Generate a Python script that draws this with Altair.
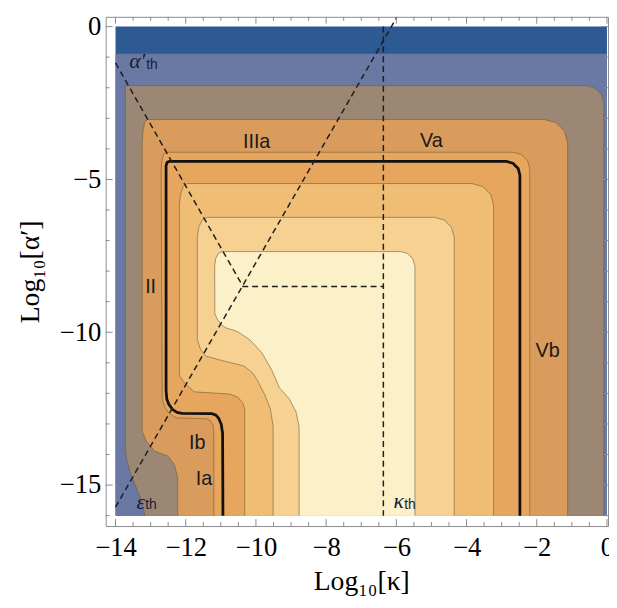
import altair as alt
import pandas as pd

# ---------------- data ----------------
# Filled contour bands, outermost (lowest level) first.
LEVEL_COLORS = ["#2d5a92", "#6a79a3", "#9c8774", "#d99c5d",
                "#e6a65d", "#f0bd75", "#f6d192", "#fcf0c8"]

# rows: (log10 alpha', left log10 kappa, right log10 kappa)
REGION_0 = [(0.0, -14.0, 0.0), (-16.0, -14.0, 0.0)]
REGION_1 = [(-0.89, -14.0, 0.0), (-16.0, -14.0, 0.0)]
REGION_2 = [(-1.93, -13.72, -0.59), (-2.01, -13.72, -0.34), (-2.22, -13.72, -0.16),
            (-2.51, -13.72, -0.09), (-13.79, -13.72, -0.09), (-14.11, -13.69, -0.09),
            (-14.6, -13.58, -0.09), (-15.08, -13.41, -0.09), (-15.57, -13.24, -0.09),
            (-16.0, -13.16, -0.09)]
REGION_3 = [(-3.04, -13.10, -1.79), (-3.14, -13.17, -1.45), (-3.43, -13.22, -1.21),
            (-3.81, -13.24, -1.12), (-13.24, -13.24, -1.12), (-13.57, -13.12, -1.12),
            (-13.89, -12.88, -1.12), (-14.05, -12.51, -1.12), (-14.34, -12.32, -1.12),
            (-14.76, -12.23, -1.12), (-16.0, -12.23, -1.12)]
REGION_4 = [(-4.11, -12.56, -2.68), (-4.18, -12.63, -2.44), (-4.39, -12.68, -2.26),
            (-4.66, -12.70, -2.20), (-12.18, -12.67, -2.20), (-12.45, -12.60, -2.20),
            (-12.61, -12.51, -2.20), (-12.74, -12.36, -2.20), (-12.80, -12.26, -2.20),
            (-12.83, -11.40, -2.20), (-12.90, -11.30, -2.20), (-13.04, -11.22, -2.20),
            (-13.30, -11.20, -2.20), (-16.0, -11.20, -2.20)]
REGION_5 = [(-5.135, -11.96, -3.85), (-5.23, -12.07, -3.54), (-5.49, -12.15, -3.31),
            (-5.85, -12.18, -3.23), (-11.43, -12.18, -3.23), (-11.64, -12.04, -3.23),
            (-11.80, -11.90, -3.23), (-11.95, -11.76, -3.23), (-12.02, -10.75, -3.23),
            (-12.12, -10.52, -3.23), (-12.30, -10.38, -3.23), (-12.50, -10.32, -3.23),
            (-16.0, -10.32, -3.23)]
REGION_6 = [(-6.24, -11.39, -4.91), (-6.33, -11.53, -4.63), (-6.57, -11.63, -4.43),
            (-6.89, -11.67, -4.35), (-10.24, -11.67, -4.35), (-10.56, -11.58, -4.35),
            (-10.78, -11.43, -4.35), (-10.94, -10.92, -4.35), (-11.10, -10.35, -4.35),
            (-11.30, -10.12, -4.35), (-11.53, -9.98, -4.35), (-12.02, -9.76, -4.35),
            (-12.50, -9.59, -4.35), (-13.08, -9.51, -4.35), (-16.0, -9.51, -4.35)]
REGION_7 = [(-7.36, -10.97, -5.89), (-7.42, -11.07, -5.68), (-7.60, -11.15, -5.53),
            (-7.84, -11.175, -5.47), (-9.40, -11.17, -5.47), (-9.60, -11.09, -5.47),
            (-9.76, -10.98, -5.47), (-9.86, -10.85, -5.47), (-9.97, -10.54, -5.47),
            (-10.24, -10.18, -5.47), (-10.66, -9.84, -5.47), (-11.21, -9.56, -5.47),
            (-11.82, -9.33, -5.47), (-12.18, -9.05, -5.47), (-12.60, -8.86, -5.47),
            (-13.08, -8.77, -5.47), (-16.0, -8.77, -5.47)]
REGIONS = [REGION_0, REGION_1, REGION_2, REGION_3, REGION_4, REGION_5, REGION_6, REGION_7]

# thick black contour
BLACK_X = [-10.94, -10.95, -10.99, -11.06, -11.14, -11.25, -12.10, -12.25, -12.38, -12.48,
           -12.54, -12.56, -12.56, -12.53, -12.46, -2.87, -2.68, -2.53, -2.48, -2.48]
BLACK_Y = [-16.0, -13.3, -13.0, -12.82, -12.71, -12.665, -12.655, -12.62, -12.52, -12.36,
           -12.18, -11.9, -4.55, -4.44, -4.41, -4.41, -4.47, -4.64, -4.86, -16.0]

# dashed threshold lines (segment id, x, y)
DASH_SEG = [0, 0, 0, 1, 1, 2, 2]
DASH_X = [-14.0, -10.37, -6.37, -14.0, -5.99, -6.37, -6.37]
DASH_Y = [-1.19, -8.5, -8.5, -15.72, 0.30, 0.0, -16.0]

# region labels
LABELS = ["IIIa", "Va", "II", "Vb", "Ib", "Ia"]
LABEL_X = [-9.98, -5.0, -13.0, -1.69, -11.67, -11.48]
LABEL_Y = [-3.79, -3.73, -8.53, -10.6, -13.63, -14.81]

# threshold symbols and their "th" subscripts
SYMBOLS = ["α′", "ε", "κ"]
SYM_X = [-13.38, -13.28, -5.93]
SYM_Y = [-1.13, -15.56, -15.53]
SUB_TEXT = ["th", "th", "th"]
SUB_X = [-12.96, -12.99, -5.61]
SUB_Y = [-1.27, -15.66, -15.66]

# ticks
X_MAJOR = [-14, -12, -10, -8, -6, -4, -2, 0]
X_MINOR = [-13.5, -13, -12.5, -11.5, -11, -10.5, -9.5, -9, -8.5, -7.5, -7, -6.5,
           -5.5, -5, -4.5, -3.5, -3, -2.5, -1.5, -1, -0.5]
Y_MAJOR = [0, -5, -10, -15]
Y_MINOR = [-1, -2, -3, -4, -6, -7, -8, -9, -11, -12, -13, -14, -16]

# ---------------- chart ----------------
W, H = 509, 516
xscale = alt.Scale(domain=[-14.28, 0.03], nice=False, zero=False)
yscale = alt.Scale(domain=[-16.34, 0.32], nice=False, zero=False)

axis_x = alt.Axis(values=X_MAJOR, ticks=False, domain=False, grid=False,
                  labelFont="Liberation Serif", labelFontSize=27, labelColor="black",
                  labelPadding=9, labelFlush=False, labelOverlap=False,
                  title="Log₁₀[κ]", titleFont="Liberation Serif", titleFontSize=28,
                  titleFontWeight="normal", titleColor="black",
                  titleX=259, titleY=64, titleBaseline="alphabetic", titleAlign="center")
axis_y = alt.Axis(values=Y_MAJOR, ticks=False, domain=False, grid=False,
                  labelFont="Liberation Serif", labelFontSize=27, labelColor="black",
                  labelPadding=5, labelFlush=False, labelOverlap=False,
                  title="Log₁₀[α′]", titleFont="Liberation Serif", titleFontSize=28,
                  titleFontWeight="normal", titleColor="black", titleAngle=270,
                  titleX=-68, titleY=258, titleBaseline="alphabetic", titleAlign="center")


def X(field):
    return alt.X(field, type="quantitative", scale=xscale, axis=axis_x, stack=False)


def Y(field):
    return alt.Y(field, type="quantitative", scale=yscale, axis=axis_y)


layers = []
for k, rows in enumerate(REGIONS):
    df = pd.DataFrame(rows, columns=["y", "xl", "xr"])
    layers.append(
        alt.Chart(df).mark_area(orient="horizontal", color=LEVEL_COLORS[k], opacity=1)
        .encode(y=Y("y"), x=X("xl"), x2="xr")
    )

# thin contour outlines for the inner bands
for k, rows in enumerate(REGIONS):
    if k < 2:
        continue
    pts = [(xl, y) for (y, xl, xr) in reversed(rows)] + [(xr, y) for (y, xl, xr) in rows]
    odf = pd.DataFrame({"x": [p[0] for p in pts], "y": [p[1] for p in pts],
                        "o": list(range(len(pts)))})
    layers.append(
        alt.Chart(odf).mark_line(color="#6e5a36", strokeWidth=0.7, opacity=0.85)
        .encode(x=X("x"), y=Y("y"), order="o:Q")
    )

black_df = pd.DataFrame({"x": BLACK_X, "y": BLACK_Y, "o": list(range(len(BLACK_X)))})
layers.append(
    alt.Chart(black_df).mark_line(color="#111111", strokeWidth=2.8, strokeJoin="round")
    .encode(x=X("x"), y=Y("y"), order="o:Q")
)

dash_df = pd.DataFrame({"seg": DASH_SEG, "x": DASH_X, "y": DASH_Y,
                        "o": list(range(len(DASH_X)))})
layers.append(
    alt.Chart(dash_df).mark_line(color="#1e1e1e", strokeWidth=1.5, strokeDash=[6, 4])
    .encode(x=X("x"), y=Y("y"), detail="seg:N", order="o:Q")
)

lab_df = pd.DataFrame({"t": LABELS, "x": LABEL_X, "y": LABEL_Y})
layers.append(
    alt.Chart(lab_df).mark_text(font="Liberation Sans", fontSize=20, color="#1a1a1a",
                                align="center", baseline="middle")
    .encode(x=X("x"), y=Y("y"), text="t:N")
)
sym_df = pd.DataFrame({"t": SYMBOLS, "x": SYM_X, "y": SYM_Y})
layers.append(
    alt.Chart(sym_df).mark_text(font="Liberation Serif", fontStyle="italic", fontSize=22,
                                color="#1a1a3a", align="center", baseline="middle")
    .encode(x=X("x"), y=Y("y"), text="t:N")
)
sub_df = pd.DataFrame({"t": SUB_TEXT, "x": SUB_X, "y": SUB_Y})
layers.append(
    alt.Chart(sub_df).mark_text(font="Liberation Sans", fontSize=14, color="#1a1a3a",
                                align="center", baseline="middle")
    .encode(x=X("x"), y=Y("y"), text="t:N")
)

# inward frame ticks
tick_color = "#8a8a8a"
xmaj = pd.DataFrame({"v": X_MAJOR})
xmin = pd.DataFrame({"v": X_MINOR})
ymaj = pd.DataFrame({"v": Y_MAJOR})
ymin = pd.DataFrame({"v": Y_MINOR})
for df, L in [(xmaj, 7), (xmin, 4)]:
    layers.append(alt.Chart(df).mark_rule(color=tick_color, strokeWidth=1)
                  .encode(x=X("v"), y=alt.value(H), y2=alt.value(H - L)))
    layers.append(alt.Chart(df).mark_rule(color=tick_color, strokeWidth=1)
                  .encode(x=X("v"), y=alt.value(0), y2=alt.value(L)))
for df, L in [(ymaj, 7), (ymin, 4)]:
    layers.append(alt.Chart(df).mark_rule(color=tick_color, strokeWidth=1)
                  .encode(y=Y("v"), x=alt.value(0), x2=alt.value(L)))
    layers.append(alt.Chart(df).mark_rule(color=tick_color, strokeWidth=1)
                  .encode(y=Y("v"), x=alt.value(W), x2=alt.value(W - L)))

chart = (
    alt.layer(*layers)
    .properties(width=W, height=H,
                autosize=alt.AutoSizeParams(type="none"),
                padding={"left": 99, "top": 5, "right": 1, "bottom": 71},
                background="white")
    .configure_view(stroke="#8c8c8c", strokeWidth=1)
)

chart.save("out.html", embed_options={"renderer": "svg", "actions": False})
